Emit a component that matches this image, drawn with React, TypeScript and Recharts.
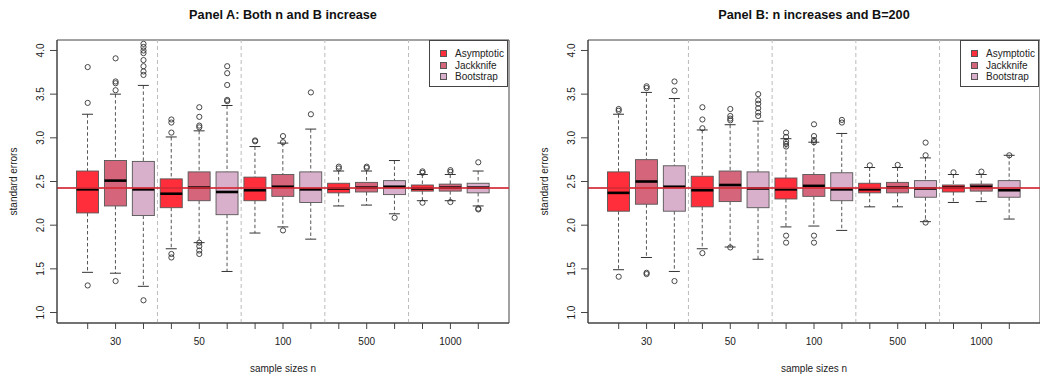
import React from 'react';
import { ComposedChart, Bar, Scatter, XAxis, YAxis, ReferenceLine, ReferenceArea } from 'recharts';

// ---------- data ----------
const sampleSizes = ['30', '50', '100', '500', '1000'];
const methods = ['Asymptotic', 'Jackknife', 'Bootstrap'];
const positions = [1, 2, 3, 4, 5, 6, 7, 8, 9, 10, 11, 12, 13, 14, 15];
const separators = [3.5, 6.5, 9.5, 12.5];
const yTicks = [1, 1.5, 2, 2.5, 3, 3.5, 4];
const trueValue = 2.425;

const titleA = 'Panel A: Both n and B increase';
const titleB = 'Panel B: n increases and B=200';

// Panel A
const aLow = [1.46, 1.45, 1.30, 1.73, 1.80, 1.47, 1.91, 1.98, 1.84, 2.22, 2.23, 2.13, 2.28, 2.28, 2.22];
const aQ1 = [2.14, 2.22, 2.11, 2.20, 2.28, 2.12, 2.28, 2.33, 2.26, 2.37, 2.38, 2.35, 2.39, 2.39, 2.37];
const aMed = [2.41, 2.51, 2.41, 2.36, 2.43, 2.38, 2.40, 2.44, 2.41, 2.42, 2.43, 2.44, 2.42, 2.43, 2.43];
const aQ3 = [2.62, 2.74, 2.73, 2.53, 2.61, 2.61, 2.55, 2.58, 2.61, 2.48, 2.49, 2.51, 2.46, 2.47, 2.48];
const aHigh = [3.27, 3.50, 3.60, 3.01, 3.08, 3.37, 2.90, 2.94, 3.10, 2.62, 2.62, 2.74, 2.58, 2.58, 2.62];
const aOutliers = [
  [3.81, 3.40, 1.31],
  [3.91, 3.645, 3.625, 3.545, 1.36],
  [4.076, 4.04, 4.0, 3.97, 3.89, 3.82, 3.76, 3.72, 1.14],
  [3.21, 3.175, 3.06, 1.67, 1.63],
  [3.35, 3.24, 3.14, 3.12, 1.80, 1.76, 1.71, 1.67],
  [3.82, 3.74, 3.605, 3.434, 3.42],
  [2.97, 2.96],
  [3.02, 2.95, 1.94],
  [3.52, 3.27],
  [2.67, 2.65],
  [2.67, 2.655],
  [2.085],
  [2.616, 2.60, 2.257],
  [2.63, 2.61, 2.265],
  [2.72, 2.19, 2.18],
];

// Panel B
const bLow = [1.49, 1.63, 1.47, 1.73, 1.75, 1.61, 1.98, 1.99, 1.94, 2.21, 2.21, 2.04, 2.26, 2.27, 2.07];
const bQ1 = [2.16, 2.24, 2.16, 2.21, 2.27, 2.20, 2.30, 2.33, 2.28, 2.37, 2.37, 2.32, 2.38, 2.39, 2.32];
const bMed = [2.37, 2.50, 2.44, 2.40, 2.46, 2.42, 2.41, 2.45, 2.41, 2.41, 2.43, 2.42, 2.43, 2.44, 2.40];
const bQ3 = [2.61, 2.75, 2.68, 2.56, 2.62, 2.61, 2.54, 2.58, 2.60, 2.48, 2.49, 2.51, 2.46, 2.47, 2.51];
const bHigh = [3.27, 3.52, 3.45, 3.09, 3.15, 3.19, 2.99, 2.95, 3.05, 2.66, 2.66, 2.77, 2.58, 2.58, 2.80];
const bOutliers = [
  [3.33, 3.31, 1.41],
  [3.59, 3.57, 1.455, 1.44],
  [3.645, 3.54, 1.36],
  [3.35, 3.21, 3.11, 1.68],
  [3.33, 3.25, 3.22, 3.20, 1.745],
  [3.50, 3.43, 3.39, 3.34, 3.29, 3.25],
  [3.06, 3.01, 2.96, 2.93, 2.90, 1.88, 1.80],
  [3.155, 3.02, 2.975, 2.95, 1.88, 1.80],
  [3.205, 3.175],
  [2.685],
  [2.69],
  [2.945, 2.80, 2.03],
  [2.605],
  [2.613],
  [2.80],
];

// ---------- styles ----------
const FONT = '"Liberation Sans", Arial, Helvetica, sans-serif';
const methodColors = ['#ff2e3a', '#d5657b', '#d9b0cb'];
const frameColor = '#444';
const X_DOMAIN: [number, number] = [-0.1, 16.1];
const Y_DOMAIN: [number, number] = [0.88, 4.12];

function buildBoxes(low: number[], q1: number[], med: number[], q3: number[], high: number[]) {
  return positions.map((p, i) => ({
    pos: p,
    method: i % 3,
    range: [low[i], high[i]],
    low: low[i],
    q1: q1[i],
    med: med[i],
    q3: q3[i],
    high: high[i],
  }));
}

function buildOutliers(out: number[][]) {
  const res: { pos: number; v: number }[] = [];
  out.forEach((arr, i) => arr.forEach((v) => res.push({ pos: positions[i], v })));
  return res;
}

const BoxShape = (props: any) => {
  const { x, y, width, height, payload } = props;
  if (payload == null) return null;
  const top = Math.min(y, y + height);
  const h = Math.abs(height);
  const { low, q1, med, q3, high, method } = payload;
  const py = (v: number) => top + ((high - v) / (high - low)) * h;
  const cx = x + width / 2;
  const cap = width / 4;
  return (
    <g>
      <line x1={cx} x2={cx} y1={py(high)} y2={py(q3)} stroke="#555" strokeDasharray="3.5 2.5" />
      <line x1={cx} x2={cx} y1={py(q1)} y2={py(low)} stroke="#555" strokeDasharray="3.5 2.5" />
      <line x1={cx - cap} x2={cx + cap} y1={py(high)} y2={py(high)} stroke="#333" />
      <line x1={cx - cap} x2={cx + cap} y1={py(low)} y2={py(low)} stroke="#333" />
      <rect x={x} y={py(q3)} width={width} height={py(q1) - py(q3)} fill={methodColors[method]} stroke="#555" strokeWidth={0.9} />
      <line x1={x} x2={x + width} y1={py(med)} y2={py(med)} stroke="#000" strokeWidth={2.6} />
    </g>
  );
};

const OutlierShape = (props: any) => {
  const { cx, cy } = props;
  if (cx == null || cy == null) return null;
  return <circle cx={cx} cy={cy} r={2.6} fill="none" stroke="#333" strokeWidth={0.9} />;
};

const xTickLabel = (v: number) => {
  const gi = (v - 2) / 3;
  return Number.isInteger(gi) && gi >= 0 && gi < sampleSizes.length ? sampleSizes[gi] : '';
};

const YTick = (props: any) => {
  const { x, y, payload } = props;
  return (
    <g transform={`translate(${x},${y}) rotate(-90)`}>
      <text textAnchor="middle" fontSize={10} fill="#222" fontFamily={FONT}>
        {Number(payload.value).toFixed(1)}
      </text>
    </g>
  );
};

const YLabel = (props: any) => {
  const vb = props.viewBox || {};
  const x = (vb.x || 0) + (vb.width || 0) - 40;
  const y = (vb.y || 0) + (vb.height || 0) / 2;
  return (
    <text transform={`translate(${x},${y}) rotate(-90)`} textAnchor="middle" fontSize={10} fill="#222" fontFamily={FONT}>
      standard errors
    </text>
  );
};

type PanelProps = {
  left: number;
  yAxisWidth: number;
  marginRight: number;
  title: string;
  boxes: any[];
  outliers: any[];
};

const Panel = ({ left, yAxisWidth, marginRight, title, boxes, outliers }: PanelProps) => {
  const W = 520;
  const H = 377;
  const plotLeft = yAxisWidth;
  const plotRight = W - marginRight;
  return (
    <div style={{ position: 'absolute', left, top: 0, width: W, height: H }}>
      <div
        style={{
          position: 'absolute',
          left: plotLeft,
          width: plotRight - plotLeft,
          top: 7,
          lineHeight: '16px',
          textAlign: 'center',
          fontWeight: 'bold',
          fontSize: 12.7,
          fontFamily: FONT,
          color: '#111',
        }}
      >
        {title}
      </div>
      <ComposedChart width={W} height={H} data={boxes} margin={{ top: 40, right: marginRight, bottom: 0, left: 0 }} barCategoryGap="10%">
        <XAxis
          type="number"
          dataKey="pos"
          domain={X_DOMAIN}
          allowDataOverflow
          ticks={positions}
          interval={0}
          tickFormatter={xTickLabel}
          tickSize={6}
          tickMargin={9}
          height={54}
          axisLine={{ stroke: frameColor }}
          tickLine={{ stroke: frameColor }}
          tick={{ fontSize: 10, fill: '#222', fontFamily: FONT }}
          label={{ value: 'sample sizes n', position: 'insideBottom', offset: 5, fontSize: 10, fill: '#222', fontFamily: FONT }}
        />
        <YAxis
          type="number"
          domain={Y_DOMAIN}
          allowDataOverflow
          ticks={yTicks}
          interval={0}
          width={yAxisWidth}
          tickSize={7}
          tickMargin={6}
          axisLine={{ stroke: frameColor }}
          tickLine={{ stroke: frameColor }}
          tick={<YTick />}
          label={<YLabel />}
        />
        <ReferenceArea x1={X_DOMAIN[0]} x2={X_DOMAIN[1]} y1={Y_DOMAIN[0]} y2={Y_DOMAIN[1]} fill="none" fillOpacity={0} stroke={frameColor} strokeWidth={1} />
        {separators.map((s) => (
          <ReferenceLine key={s} x={s} stroke="#bbb" strokeDasharray="4 3" />
        ))}
        <Bar dataKey="range" shape={<BoxShape />} isAnimationActive={false} />
        <Scatter data={outliers} dataKey="v" shape={<OutlierShape />} isAnimationActive={false} />
        <ReferenceLine y={trueValue} stroke="#d42a36" strokeOpacity={0.85} strokeWidth={2} />
      </ComposedChart>
      <div
        style={{
          position: 'absolute',
          left: plotRight - 80,
          top: 40,
          width: 79,
          height: 47,
          border: `1px solid ${frameColor}`,
          background: '#fff',
          fontFamily: FONT,
          fontSize: 10,
          color: '#222',
          boxSizing: 'border-box',
        }}
      >
        {methods.map((m, i) => (
          <div key={m} style={{ position: 'absolute', left: 10, top: 7 + i * 11.7, height: 12, lineHeight: '12px', whiteSpace: 'nowrap' }}>
            <span
              style={{
                display: 'inline-block',
                width: 7,
                height: 7,
                background: methodColors[i],
                border: '1px solid #555',
                boxSizing: 'border-box',
                verticalAlign: 'middle',
                marginRight: 8,
                marginTop: -2,
              }}
            />
            {m}
          </div>
        ))}
      </div>
    </div>
  );
};

export default function App() {
  const boxesA = buildBoxes(aLow, aQ1, aMed, aQ3, aHigh);
  const boxesB = buildBoxes(bLow, bQ1, bMed, bQ3, bHigh);
  const outA = buildOutliers(aOutliers);
  const outB = buildOutliers(bOutliers);
  return (
    <div style={{ position: 'absolute', left: 0, top: 0, width: 1040, height: 377, background: '#fff', overflow: 'hidden' }}>
      <Panel left={0} yAxisWidth={57} marginRight={11} title={titleA} boxes={boxesA} outliers={outA} />
      <Panel left={520} yAxisWidth={68} marginRight={0} title={titleB} boxes={boxesB} outliers={outB} />
    </div>
  );
}
